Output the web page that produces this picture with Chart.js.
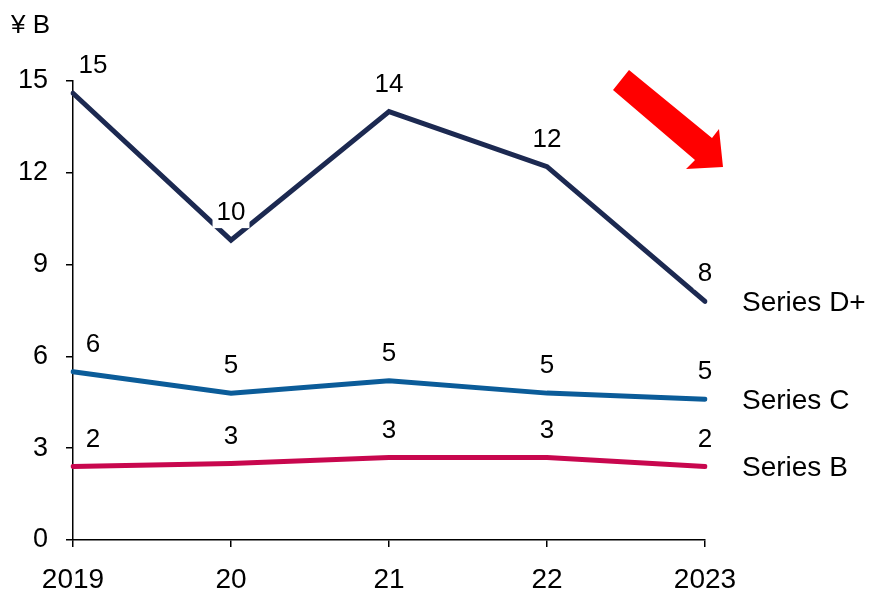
<!DOCTYPE html>
<html>
<head>
<meta charset="utf-8">
<script src="https://cdn.jsdelivr.net/npm/chart.js@4.4.1/dist/chart.umd.min.js"></script>
<style>
  html, body { margin: 0; padding: 0; background: #fff; }
  #wrap { width: 870px; height: 589px; position: relative; }
</style>
</head>
<body>
<div id="wrap"><canvas id="c" width="870" height="589"></canvas></div>
<script>
const years = ['2019', '20', '21', '22', '2023'];
const seriesNames = ['Series D+', 'Series C', 'Series B'];
const seriesDPlus = [14.6, 9.8, 14.0, 12.2, 7.8];
const seriesC = [5.5, 4.8, 5.2, 4.8, 4.6];
const seriesB = [2.4, 2.5, 2.7, 2.7, 2.4];
const yTicks = [0, 3, 6, 9, 12, 15];
const unitLabel = '¥ B';

const colors = ['#1c2951', '#0b5c99', '#c8074e'];
const FONT = '"Liberation Sans", Arial, sans-serif';

// Value labels above each point, series names at the line ends, unit title and trend arrow
const annotate = {
  id: 'annotate',
  afterDatasetsDraw(chart) {
    const ctx = chart.ctx;
    const area = chart.chartArea;
    ctx.save();
    ctx.textBaseline = 'middle';
    chart.data.datasets.forEach((ds, di) => {
      const meta = chart.getDatasetMeta(di);
      ctx.font = '26px ' + FONT;
      ctx.textAlign = 'center';
      meta.data.forEach((pt, i) => {
        const txt = String(Math.round(ds.data[i]));
        const x = pt.x + (i === 0 ? 20 : 0);
        const y = pt.y - 27;
        if (di === 0) {
          const w = ctx.measureText(txt).width;
          ctx.fillStyle = '#fff';
          ctx.fillRect(x - w / 2 - 4, y - 14, w + 8, 29);
        }
        ctx.fillStyle = '#000';
        ctx.fillText(txt, x, y);
      });
      const last = meta.data[meta.data.length - 1];
      ctx.font = '28px ' + FONT;
      ctx.textAlign = 'left';
      ctx.fillText(ds.label, area.right + 37, last.y + 2);
    });

    // unit title
    ctx.textAlign = 'left';
    ctx.font = '26px ' + FONT;
    ctx.fillText(unitLabel, 11, 26);

    // downward trend arrow
    ctx.fillStyle = '#ff0000';
    ctx.beginPath();
    ctx.moveTo(629, 70);
    ctx.lineTo(712, 138);
    ctx.lineTo(719, 129);
    ctx.lineTo(723, 167);
    ctx.lineTo(686, 169);
    ctx.lineTo(695, 160);
    ctx.lineTo(613, 90);
    ctx.closePath();
    ctx.fill();
    ctx.restore();
  }
};

new Chart(document.getElementById('c'), {
  type: 'line',
  data: {
    labels: years,
    datasets: [seriesDPlus, seriesC, seriesB].map((d, i) => ({
      label: seriesNames[i],
      data: d,
      borderColor: colors[i],
      borderWidth: 5,
      pointRadius: 0,
      tension: 0,
      fill: false,
      borderCapStyle: 'round',
      borderJoinStyle: 'miter'
    }))
  },
  options: {
    responsive: false,
    animation: false,
    devicePixelRatio: 1,
    layout: { padding: { top: 81, right: 165, left: 0, bottom: 0 } },
    plugins: { legend: { display: false }, tooltip: { enabled: false }, title: { display: false } },
    scales: {
      x: {
        offset: false,
        afterFit(s) { s.height = 49; },
        border: { display: true, color: '#000', width: 1.5 },
        grid: { drawOnChartArea: false, drawTicks: true, tickLength: 7, color: '#000', lineWidth: 1.5 },
        ticks: { color: '#000', font: { family: FONT, size: 28 }, padding: 16, maxRotation: 0 }
      },
      y: {
        min: 0,
        max: 15,
        afterBuildTicks(s) { s.ticks = yTicks.map(v => ({ value: v })); },
        afterFit(s) { s.width = 73; },
        border: { display: true, color: '#000', width: 1.5 },
        grid: { drawOnChartArea: false, drawTicks: true, tickLength: 7, color: '#000', lineWidth: 1.5 },
        ticks: { color: '#000', font: { family: FONT, size: 27 }, padding: 18 }
      }
    }
  },
  plugins: [annotate]
});
</script>
</body>
</html>
